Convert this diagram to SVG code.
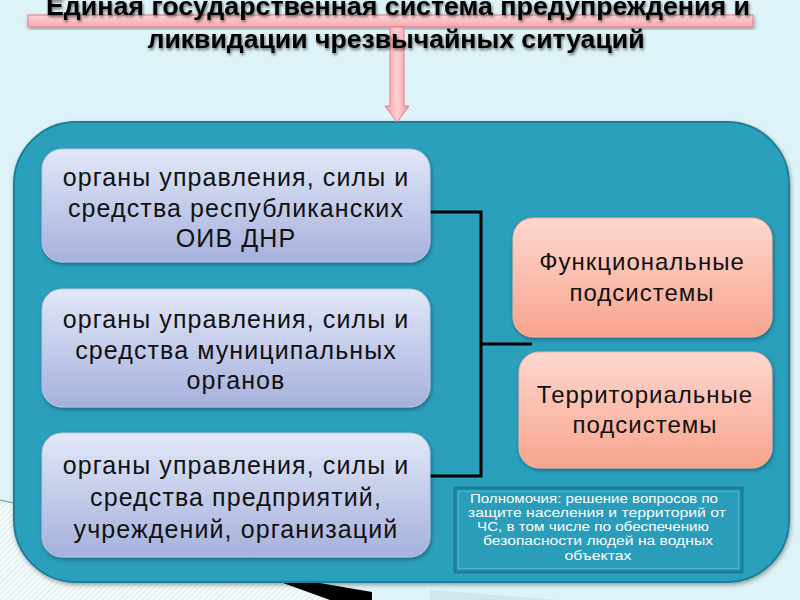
<svg xmlns="http://www.w3.org/2000/svg" width="800" height="600" viewBox="0 0 800 600">
<defs>
<linearGradient id="gBlue" x1="0" y1="0" x2="0" y2="1">
<stop offset="0" stop-color="#e2e7f8"/><stop offset="1" stop-color="#a6b1dc"/>
</linearGradient>
<linearGradient id="gOrange" x1="0" y1="0" x2="0" y2="1">
<stop offset="0" stop-color="#fdd8d0"/><stop offset="1" stop-color="#f8a48d"/>
</linearGradient>
<linearGradient id="gPink" x1="0" y1="0" x2="0" y2="1">
<stop offset="0" stop-color="#fdd3d6"/><stop offset="1" stop-color="#f7a8ae"/>
</linearGradient>
<linearGradient id="gPinkV" x1="0" y1="0" x2="1" y2="0">
<stop offset="0" stop-color="#f59aa2"/><stop offset="0.5" stop-color="#fdd0d3"/><stop offset="1" stop-color="#f59aa2"/>
</linearGradient>
<pattern id="hatch" width="4" height="4" patternUnits="userSpaceOnUse" patternTransform="rotate(45)">
<rect width="4" height="4" fill="#f4fbfd"/>
<line x1="0" y1="0" x2="0" y2="4" stroke="#c9d3d8" stroke-width="1"/>
</pattern>
<filter id="shadow" x="-10%" y="-10%" width="130%" height="130%">
<feDropShadow dx="1" dy="2" stdDeviation="2" flood-color="#000" flood-opacity="0.35"/>
</filter>
<filter id="tshadow" x="-5%" y="-30%" width="110%" height="160%">
<feDropShadow dx="1" dy="2" stdDeviation="1.5" flood-color="#000" flood-opacity="0.55"/>
</filter>
<style>
.bx{fill:url(#gBlue);stroke:#b9c2e6;stroke-width:1;filter:url(#shadow)}
.ob{fill:url(#gOrange);stroke:#f3b2a2;stroke-width:1;filter:url(#shadow)}
.bt{font-family:"Liberation Sans",Arial,sans-serif;font-size:25px;fill:#111;text-anchor:middle;letter-spacing:1.1px}
.ot{font-family:"Liberation Sans",Arial,sans-serif;font-size:24px;fill:#111;text-anchor:middle;letter-spacing:1px}
.tt{font-family:"Liberation Sans",Arial,sans-serif;font-size:26px;font-weight:bold;fill:#000;text-anchor:middle;filter:url(#tshadow)}
.it{font-family:"Liberation Sans",Arial,sans-serif;font-size:12.5px;fill:#fff;text-anchor:middle}
.conn{fill:none;stroke:#000;stroke-width:3}
</style>
</defs>
<rect width="800" height="600" fill="#ddf3f8"/>
<!-- bottom-left decoration -->
<polygon points="0,503 45,510 265,575 350,600 0,600" fill="url(#hatch)"/>
<line x1="0" y1="500" x2="45" y2="510" stroke="#6f8a95" stroke-width="1"/>
<polygon points="250,571 372,592 372,600 330,600" fill="#000"/>
<polygon points="430,590 560,600 430,600" fill="#cfe6ee"/>
<!-- container -->
<g id="container">
<rect x="14" y="122" width="775" height="460" rx="62" ry="62" fill="#2ba0bd" stroke="#1e7f98" stroke-width="2" filter="url(#shadow)"/>
</g>
<!-- pink arrow -->
<g id="arrow">
<rect x="28" y="15" width="725" height="12" fill="url(#gPink)" stroke="#e27c86" stroke-width="1" filter="url(#shadow)"/>
<polygon points="390,27 404,27 404,106 409,106 397,122 385,106 390,106" fill="url(#gPinkV)" stroke="#e27c86" stroke-width="1"/>
</g>
<!-- title -->
<g id="title">
<text class="tt" x="398" y="15" textLength="704" lengthAdjust="spacingAndGlyphs">Единая государственная система предупреждения и</text>
<text class="tt" x="396" y="48" textLength="497" lengthAdjust="spacingAndGlyphs">ликвидации чрезвычайных ситуаций</text>
</g>
<!-- connectors -->
<g id="connectors">
<polyline class="conn" points="430,212 481,212 481,476 430,476"/>
<line class="conn" x1="481" y1="344" x2="532" y2="344"/>
</g>
<g id="box1">
<rect class="bx" x="42" y="149" width="388" height="113" rx="20"/>
<text class="bt" x="236" y="186">органы управления, силы и</text>
<text class="bt" x="236" y="217">средства республиканских</text>
<text class="bt" x="236" y="247">ОИВ ДНР</text>
</g>
<g id="box2">
<rect class="bx" x="42" y="289" width="388" height="118" rx="20"/>
<text class="bt" x="236" y="328">органы управления, силы и</text>
<text class="bt" x="236" y="359">средства муниципальных</text>
<text class="bt" x="236" y="389">органов</text>
</g>
<g id="box3">
<rect class="bx" x="42" y="433" width="388" height="124" rx="20"/>
<text class="bt" x="236" y="474">органы управления, силы и</text>
<text class="bt" x="236" y="506">средства предприятий,</text>
<text class="bt" x="236" y="538">учреждений, организаций</text>
</g>
<g id="func">
<rect class="ob" x="513" y="218" width="259" height="119" rx="20"/>
<text class="ot" x="642" y="270">Функциональные</text>
<text class="ot" x="642" y="301">подсистемы</text>
</g>
<g id="terr">
<rect class="ob" x="519" y="352" width="253" height="116" rx="20"/>
<text class="ot" x="645" y="403">Территориальные</text>
<text class="ot" x="645" y="433">подсистемы</text>
</g>
<g id="info">
<rect x="455" y="488" width="287" height="84" fill="#2a9dba" stroke="#1b7c95" stroke-width="3"/>
<rect x="458.5" y="491.5" width="280" height="77" fill="none" stroke="#4cb6cf" stroke-width="1"/>
<text class="it" x="594" y="503" textLength="248" lengthAdjust="spacingAndGlyphs">Полномочия: решение вопросов по</text>
<text class="it" x="597" y="517" textLength="258" lengthAdjust="spacingAndGlyphs">защите населения и территорий от</text>
<text class="it" x="593" y="531" textLength="232" lengthAdjust="spacingAndGlyphs">ЧС, в том числе по обеспечению</text>
<text class="it" x="598" y="545" textLength="230" lengthAdjust="spacingAndGlyphs">безопасности людей на водных</text>
<text class="it" x="598" y="560" textLength="67" lengthAdjust="spacingAndGlyphs">объектах</text>
</g>
</svg>
